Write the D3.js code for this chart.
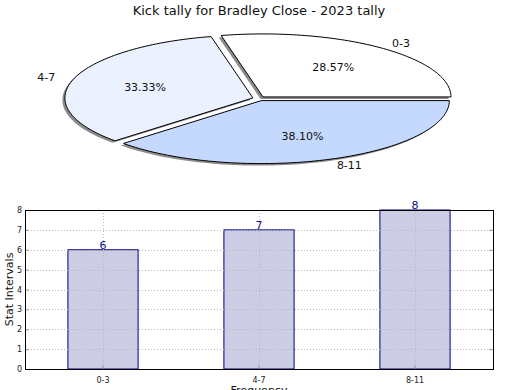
<!DOCTYPE html>
<html>
<head>
<meta charset="utf-8">
<script src="https://cdn.jsdelivr.net/npm/d3@7"></script>
<style>
  body { margin: 0; background: #fff; }
  svg { display: block; font-family: "DejaVu Sans", sans-serif; }
</style>
</head>
<body>
<div id="chart"></div>
<script>
const categories = ['0-3', '4-7', '8-11'];
const tallies = [6, 7, 8];
const sliceColors = ['#ffffff', '#ebf1ff', '#c5d9ff'];
const yTicks = [0, 1, 2, 3, 4, 5, 6, 7, 8];
const title = 'Kick tally for Bradley Close - 2023 tally';

const width = 520;
const height = 390;

const svg = d3.select('#chart').append('svg')
  .attr('width', width)
  .attr('height', height);

svg.append('text')
  .attr('x', 259)
  .attr('y', 15)
  .attr('text-anchor', 'middle')
  .attr('font-size', 13)
  .attr('fill', '#111')
  .text(title);

// ---- pie (elliptic, like matplotlib in a non-square axes)
const cx = 259;
const cy = 98.6;
const rx = 188;
const ry = 63;
const explode = 0.034;
const total = d3.sum(tallies);

// matplotlib starts at 3 o'clock and goes counterclockwise
const pie = d3.pie().sort(null)
  .startAngle(Math.PI / 2)
  .endAngle(Math.PI / 2 - 2 * Math.PI)(tallies);

// d3 angle (0 = up, clockwise) -> screen point on unit circle
const ux = a => Math.sin(a);
const uy = a => -Math.cos(a);

const wedgePath = (d, ox, oy) => {
  const p = d3.path();
  const n = 80;
  p.moveTo(ox, oy);
  for (let i = 0; i <= n; i += 1) {
    const a = d.startAngle + (d.endAngle - d.startAngle) * (i / n);
    p.lineTo(ox + rx * ux(a), oy + ry * uy(a));
  }
  p.closePath();
  return p.toString();
};

const slices = pie.map((d, i) => {
  const mid = (d.startAngle + d.endAngle) / 2;
  return {
    d,
    i,
    mid,
    ox: cx + explode * rx * ux(mid),
    oy: cy + explode * ry * uy(mid),
  };
});

const pieG = svg.append('g');

pieG.selectAll('path.shadow')
  .data(slices)
  .join('path')
  .attr('class', 'shadow')
  .attr('d', s => wedgePath(s.d, s.ox - 2.5, s.oy + 2))
  .attr('fill', '#8c8c8c')
  .attr('stroke', 'none');

pieG.selectAll('path.wedge')
  .data(slices)
  .join('path')
  .attr('class', 'wedge')
  .attr('d', s => wedgePath(s.d, s.ox, s.oy))
  .attr('fill', s => sliceColors[s.i])
  .attr('stroke', '#000')
  .attr('stroke-width', 1)
  .attr('stroke-linejoin', 'miter');

pieG.selectAll('text.label')
  .data(slices)
  .join('text')
  .attr('class', 'label')
  .attr('x', s => s.ox + 1.1 * rx * ux(s.mid))
  .attr('y', s => s.oy + 1.1 * ry * uy(s.mid))
  .attr('dy', '0.35em')
  .attr('text-anchor', s => (ux(s.mid) >= 0 ? 'start' : 'end'))
  .attr('font-size', 11)
  .attr('fill', '#111')
  .text(s => categories[s.i]);

pieG.selectAll('text.pct')
  .data(slices)
  .join('text')
  .attr('class', 'pct')
  .attr('x', s => s.ox + 0.6 * rx * ux(s.mid))
  .attr('y', s => s.oy + 0.6 * ry * uy(s.mid))
  .attr('dy', '0.35em')
  .attr('text-anchor', 'middle')
  .attr('font-size', 11)
  .attr('fill', '#111')
  .text(s => `${((tallies[s.i] / total) * 100).toFixed(2)}%`);

// ---- bar chart
const plot = { left: 25, right: 493, top: 210, bottom: 369 };

const x = d3.scaleBand()
  .domain(categories)
  .range([plot.left, plot.right]);

const y = d3.scaleLinear()
  .domain([0, 8])
  .range([plot.bottom, plot.top]);

const barW = x.bandwidth() * 0.45;
const xc = c => x(c) + x.bandwidth() / 2;

const barG = svg.append('g');

barG.selectAll('rect.bar')
  .data(tallies)
  .join('rect')
  .attr('class', 'bar')
  .attr('x', (d, i) => xc(categories[i]) - barW / 2)
  .attr('y', d => y(d))
  .attr('width', barW)
  .attr('height', d => y(0) - y(d))
  .attr('fill', '#ccccE5')
  .attr('stroke', '#000080')
  .attr('stroke-width', 1);

// grid on top of bars
barG.selectAll('line.hgrid')
  .data(yTicks.slice(1, -1))
  .join('line')
  .attr('class', 'hgrid')
  .attr('x1', plot.left)
  .attr('x2', plot.right)
  .attr('y1', d => Math.round(y(d)) + 0.5)
  .attr('y2', d => Math.round(y(d)) + 0.5)
  .attr('stroke', '#b8b8b8')
  .attr('stroke-dasharray', '1,2');

barG.selectAll('line.vgrid')
  .data(categories)
  .join('line')
  .attr('class', 'vgrid')
  .attr('x1', d => Math.round(xc(d)) + 0.5)
  .attr('x2', d => Math.round(xc(d)) + 0.5)
  .attr('y1', plot.top)
  .attr('y2', plot.bottom)
  .attr('stroke', '#b8b8b8')
  .attr('stroke-dasharray', '1,2');

barG.selectAll('text.val')
  .data(tallies)
  .join('text')
  .attr('class', 'val')
  .attr('x', (d, i) => xc(categories[i]))
  .attr('y', d => y(d) - 1)
  .attr('text-anchor', 'middle')
  .attr('font-size', 11)
  .attr('fill', '#10108c')
  .text(d => d);

// axes with inward ticks on all sides
const yAxisL = d3.axisLeft(y).tickValues(yTicks).tickSize(-4).tickPadding(3);
const yAxisR = d3.axisRight(y).tickValues(yTicks).tickSize(-4).tickFormat('');
const xAxisB = d3.axisBottom(x).tickSize(-4).tickPadding(8);

const styleAxis = g => {
  g.select('.domain').remove();
  g.selectAll('line').attr('stroke', '#999');
  g.selectAll('text')
    .attr('font-size', 8)
    .attr('font-family', '"DejaVu Sans", sans-serif')
    .attr('fill', '#222');
};

svg.append('g')
  .attr('transform', `translate(${plot.left},0)`)
  .call(yAxisL)
  .call(styleAxis);

svg.append('g')
  .attr('transform', `translate(${plot.right},0)`)
  .call(yAxisR)
  .call(styleAxis);

svg.append('g')
  .attr('transform', `translate(0,${plot.bottom})`)
  .call(xAxisB)
  .call(styleAxis);

svg.append('rect')
  .attr('x', plot.left + 0.5)
  .attr('y', plot.top + 0.5)
  .attr('width', plot.right - plot.left)
  .attr('height', plot.bottom - plot.top)
  .attr('fill', 'none')
  .attr('stroke', '#000')
  .attr('stroke-width', 1);

svg.append('text')
  .attr('transform', `translate(13,${(plot.top + plot.bottom) / 2}) rotate(-90)`)
  .attr('text-anchor', 'middle')
  .attr('font-size', 11)
  .attr('fill', '#111')
  .text('Stat Intervals');

svg.append('text')
  .attr('x', (plot.left + plot.right) / 2)
  .attr('y', 394)
  .attr('text-anchor', 'middle')
  .attr('font-size', 11)
  .attr('fill', '#111')
  .text('Frequency');
</script>
</body>
</html>
